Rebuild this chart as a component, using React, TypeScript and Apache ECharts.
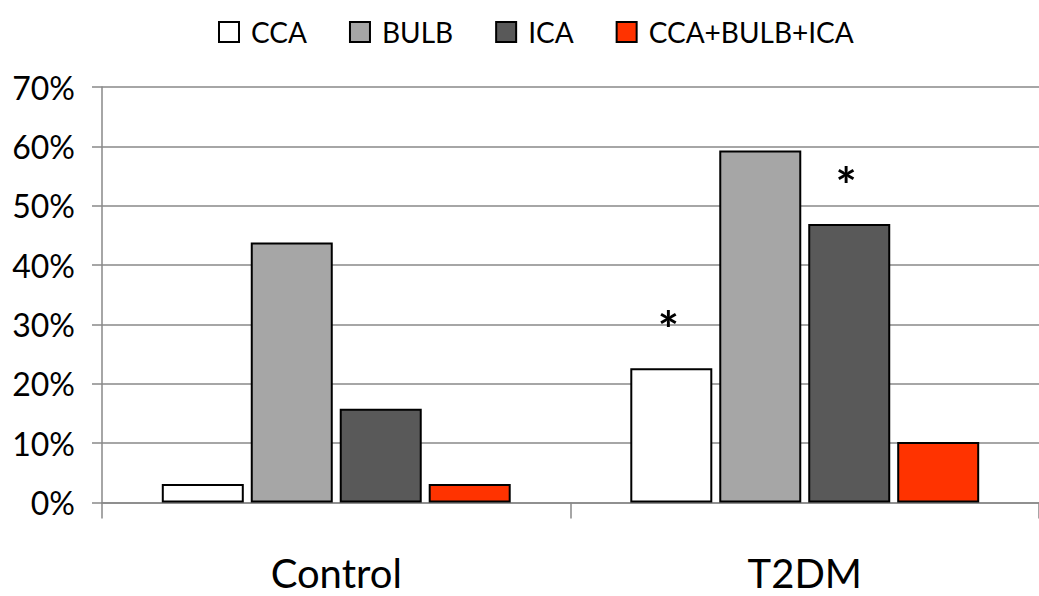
import React, { useEffect, useRef } from "react";
import * as echarts from "echarts";

const categories = ["Control", "T2DM"];
const seriesNames = ["CCA", "BULB", "ICA", "CCA+BULB+ICA"];
const ccaValues = [0.031, 0.226];
const bulbValues = [0.438, 0.593];
const icaValues = [0.158, 0.469];
const allValues = [0.031, 0.102];
const ccaSig = ["", "*"];
const bulbSig = ["", ""];
const icaSig = ["", "*"];
const allSig = ["", ""];
const yTicks = [0, 0.1, 0.2, 0.3, 0.4, 0.5, 0.6, 0.7];

const FONT = "Lato";

export default function App() {
  const ref = useRef<HTMLDivElement>(null);
  useEffect(() => {
    if (!ref.current) return;
    const chart = echarts.init(ref.current, undefined, { renderer: "svg" });
    const colors = ["#FFFFFF", "#A6A6A6", "#595959", "#FF3300"];
    const values = [ccaValues, bulbValues, icaValues, allValues];
    const sigs = [ccaSig, bulbSig, icaSig, allSig];
    const series = seriesNames.map((name, i) => ({
      name,
      type: "bar",
      data: values[i],
      barWidth: 82,
      barGap: "8.5%",
      itemStyle: { color: colors[i], borderColor: "#000", borderWidth: 2 },
      label: {
        show: true,
        position: "top",
        distance: 14,
        offset: [-3, 0],
        formatter: (p: any) => sigs[i][p.dataIndex],
        fontFamily: FONT,
        fontSize: 50,
        fontWeight: "bold",
        color: "#000",
      },
    }));
    chart.setOption({
      animation: false,
      textStyle: { fontFamily: FONT },
      legend: {
        left: 213,
        top: 13,
        itemWidth: 20,
        itemHeight: 20,
        itemGap: 42,
        icon: "rect",
        textStyle: { fontFamily: FONT, fontSize: 28, color: "#000", padding: [0, 0, 0, 7] },
        data: seriesNames,
      },
      grid: { left: 102, top: 87, width: 940, bottom: 93.5, containLabel: false },
      xAxis: {
        type: "category",
        data: categories,
        axisLine: { show: true, lineStyle: { color: "#888", width: 1.5 } },
        axisTick: { show: true, length: 16, alignWithLabel: false, lineStyle: { color: "#888", width: 1.5 } },
        axisLabel: { fontFamily: FONT, fontSize: 40, color: "#000", margin: 50 },
      },
      yAxis: {
        type: "value",
        min: 0,
        max: 0.7,
        interval: 0.1,
        axisLine: { show: true, lineStyle: { color: "#888", width: 1.5 } },
        axisTick: { show: true, length: 10, lineStyle: { color: "#888", width: 1.5 } },
        splitLine: { show: true, lineStyle: { color: "#888", width: 1.5 } },
        axisLabel: {
          fontFamily: FONT,
          fontSize: 32,
          color: "#000",
          margin: 27,
          formatter: (v: number) => {
            const t = yTicks.find((x) => Math.abs(x - v) < 1e-9);
            return Math.round((t ?? v) * 100) + "%";
          },
        },
      },
      series,
    });
    return () => chart.dispose();
  }, []);
  return (
    <div
      ref={ref}
      style={{ position: "fixed", left: 0, top: 0, width: 1039, height: 596, background: "#fff" }}
    />
  );
}
